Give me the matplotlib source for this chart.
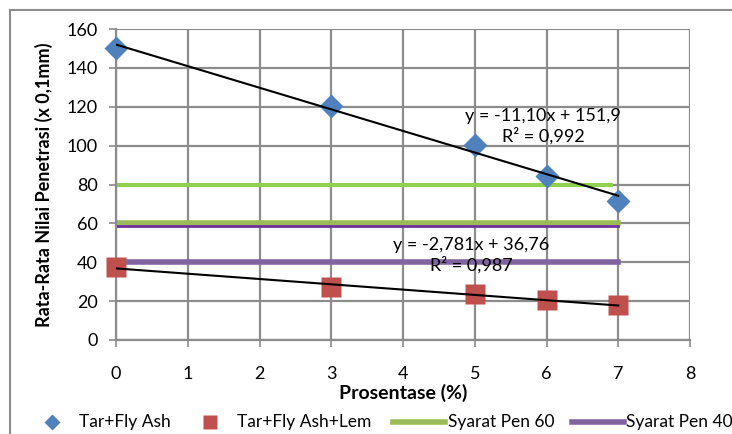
import numpy as np
import matplotlib.pyplot as plt
from matplotlib.lines import Line2D

plt.rcParams['font.family'] = ['Lato', 'DejaVu Sans']

# data
prosentase = [0, 3, 5, 6, 7]
tar_fly_ash = [150, 120.5, 100.3, 84.4, 71.5]
tar_fly_ash_lem = [37.5, 27.3, 23.5, 20.6, 18]

pen60_x = [0, 7]
pen60 = [60, 60]
pen60_top_x = [0, 6.9]
pen60_top = [79.5, 79.5]
pen40_x = [0, 7]
pen40 = [40, 40]
pen40_top = [58.5, 58.5]

eq1 = "y = -11,10x + 151,9\nR² = 0,992"
eq2 = "y = -2,781x + 36,76\nR² = 0,987"

W, H = 732, 434
fig = plt.figure(figsize=(W / 100, H / 100), dpi=100)
ax = fig.add_axes([116/W, 1 - 340/H, (690-116)/W, (340-29)/H])

grid_c = '#8c8c8c'
ax.set_xlim(0, 8)
ax.set_ylim(0, 160)
ax.set_xticks(range(0, 9))
ax.set_yticks(range(0, 161, 20))
ax.grid(True, color=grid_c, linewidth=1.6)
ax.set_axisbelow(True)
for s in ['top', 'right']:
    ax.spines[s].set_visible(False)
for s in ['left', 'bottom']:
    ax.spines[s].set_color(grid_c)
    ax.spines[s].set_linewidth(1.6)
ax.tick_params(axis='both', color=grid_c, width=1.2, length=5, labelsize=13)
ax.tick_params(axis='x', pad=14)
ax.tick_params(axis='y', pad=8)

# standard lines
ax.plot(pen60_top_x, pen60_top, color='#92d050', lw=3, zorder=2)
ax.plot(pen60_x, pen60, color='#9bbb59', lw=4, zorder=2)
ax.plot(pen40_x, pen40_top, color='#7030a0', lw=2, zorder=2)
ax.plot(pen40_x, pen40, color='#8064a2', lw=4, zorder=2)

# data points
ax.plot(prosentase, tar_fly_ash, 'D', color='#4f81bd', ms=12.5, mec='none',
        zorder=3, clip_on=False)
ax.plot(prosentase, tar_fly_ash_lem, 's', color='#c0504d', ms=14, mec='none',
        zorder=3, clip_on=False)

# linear trendlines
xs = np.array([0, 7])
for ys in (tar_fly_ash, tar_fly_ash_lem):
    k, b = np.polyfit(prosentase, ys, 1)
    ax.plot(xs, k * xs + b, color='black', lw=1.5, zorder=4)

ax.text(5.95, 110, eq1, ha='center', va='center', fontsize=13, linespacing=1.25)
ax.text(4.95, 43.5, eq2, ha='center', va='center', fontsize=13, linespacing=1.25)

ax.set_xlabel('Prosentase (%)', fontsize=14, fontweight='bold', labelpad=1)
ax.set_ylabel('Rata-Rata Nilai Penetrasi (x 0,1mm)', fontsize=13, fontweight='bold',
              labelpad=10)

# legend laid out like the Excel one (runs past the right edge)
ly = 1 - 422 / H
def fx(px):
    return px / W

fig.add_artist(Line2D([fx(52)], [ly], marker='D', color='#4f81bd', ms=8, mec='none',
                      transform=fig.transFigure))
fig.text(fx(79), ly, 'Tar+Fly Ash', va='center', fontsize=12.5)
fig.add_artist(Line2D([fx(210)], [ly], marker='s', color='#c0504d', ms=10, mec='none',
                      transform=fig.transFigure))
fig.text(fx(237), ly, 'Tar+Fly Ash+Lem', va='center', fontsize=12.5)
fig.add_artist(Line2D([fx(393), fx(445)], [ly, ly], color='#9bbb59', lw=4,
                      transform=fig.transFigure))
fig.text(fx(448), ly, 'Syarat Pen 60', va='center', fontsize=12.5)
fig.add_artist(Line2D([fx(572), fx(624)], [ly, ly], color='#8064a2', lw=4,
                      transform=fig.transFigure))
fig.text(fx(626), ly, 'Syarat Pen 40', va='center', fontsize=12.5)

# outer chart border (right and bottom sides fall outside the image)
fig.add_artist(Line2D([fx(10), fx(10)], [0, 1 - 10/H], transform=fig.transFigure,
                      color=grid_c, lw=1.5))
fig.add_artist(Line2D([fx(10), 1], [1 - 10/H, 1 - 10/H], transform=fig.transFigure,
                      color=grid_c, lw=1.5))

fig.savefig('out.png', dpi=100)
